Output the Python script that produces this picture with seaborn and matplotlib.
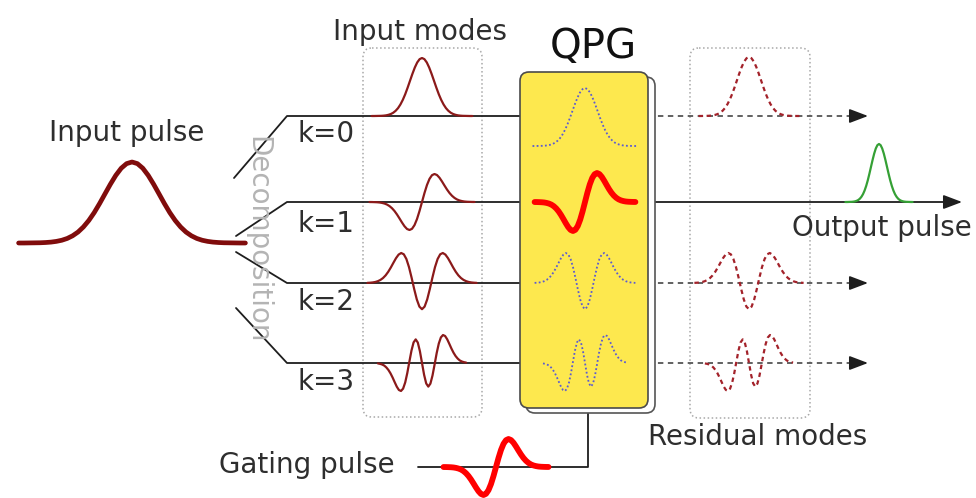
import numpy as np
import matplotlib
matplotlib.use("Agg")
import matplotlib.pyplot as plt
from matplotlib.patches import FancyBboxPatch
import seaborn as sns

# sampled right half of the pulse-mode profiles (k = 0..3), mirrored for the left half
mode_t = [0.0, 0.2, 0.4, 0.6, 0.8, 1.0, 1.2, 1.4, 1.6, 1.8, 2.0,
          2.2, 2.4, 2.6, 2.8, 3.0, 3.2, 3.4, 3.6, 3.8, 4.0, 4.2]
mode_k0 = [1.000, 0.980, 0.923, 0.835, 0.726, 0.607, 0.487, 0.375, 0.278, 0.198, 0.135,
           0.089, 0.056, 0.034, 0.020, 0.011, 0.006, 0.003, 0.002, 0.001, 0.000, 0.000]
mode_k1 = [0.000, 0.323, 0.609, 0.826, 0.958, 1.000, 0.963, 0.866, 0.733, 0.587, 0.446,
           0.322, 0.222, 0.146, 0.091, 0.055, 0.032, 0.017, 0.009, 0.005, 0.002, 0.001]
mode_k2 = [-0.873, -0.787, -0.548, -0.204, 0.177, 0.529, 0.799, 0.957, 1.000, 0.947, 0.827,
           0.674, 0.515, 0.372, 0.254, 0.165, 0.102, 0.060, 0.033, 0.018, 0.009, 0.004]
mode_k3 = [0.000, -0.422, -0.730, -0.843, -0.737, -0.448, -0.052, 0.357, 0.696, 0.915, 0.999,
           0.964, 0.847, 0.686, 0.519, 0.369, 0.248, 0.157, 0.091, 0.053, 0.029, 0.015]
mode_parity = [1, -1, 1, -1]

k_labels = ["k=0", "k=1", "k=2", "k=3"]
residual_modes = [0, 2, 3]   # modes that leave the QPG unconverted
selected_mode = 1            # mode picked out by the gating pulse

sns.set_theme(style="white")
plt.rcParams["font.family"] = ["DejaVu Sans"]


def full_profile(k):
    half = np.array([mode_k0, mode_k1, mode_k2, mode_k3][k])
    t = np.array(mode_t)
    left = mode_parity[k] * half[::-1][:-1]
    return np.concatenate([-t[::-1][:-1], t]), np.concatenate([left, half])


def draw_mode(ax, k, cx, base, u, amp, **style):
    t, g = full_profile(k)
    sns.lineplot(x=cx + t * u, y=base - amp * g, ax=ax, sort=False,
                 estimator=None, legend=False, **style)


fig = plt.figure(figsize=(9.76, 4.98), dpi=100)
ax = fig.add_axes([0, 0, 1, 1])
ax.set_xlim(0, 976)
ax.set_ylim(498, 0)
ax.axis("off")

rows = [116, 202, 283, 363]
label_y = [134, 224, 302, 382]
fan_start = [(234, 178), (236, 236), (236, 252), (236, 308)]
txt = "#2e2e2e"
fs = 20

# input pulse
draw_mode(ax, 0, 132, 243, 27, 81, color="#800c0c", linewidth=3.4)
ax.text(127, 133, "Input pulse", ha="center", va="center", fontsize=fs, color=txt)

# decomposition fan + channel lines
for (x0, y0), yr in zip(fan_start, rows):
    ax.plot([x0, 287, 520], [y0, yr, yr], color="#1e1e1e", lw=1.3, zorder=2)
ax.text(257, 240, "Decomposition", rotation=-90, ha="center", va="center",
        fontsize=fs, color="#b4b4b4")
for lab, ly in zip(k_labels, label_y):
    ax.text(297, ly, lab, ha="left", va="center", fontsize=fs, color=txt)

# input modes box
ax.add_patch(FancyBboxPatch((363, 48), 119, 369, boxstyle="round,pad=0,rounding_size=9",
                            fc="none", ec="#a8a8a8", lw=1.1, ls=":", zorder=1))
ax.text(420, 32, "Input modes", ha="center", va="center", fontsize=fs, color=txt)
in_u = [12, 12.5, 13, 10.5]
in_amp = [58, 28, 30, 28]
for k in range(4):
    draw_mode(ax, k, 422, rows[k], in_u[k], in_amp[k], color="#8b1a1a", linewidth=1.6)

# QPG box
ax.add_patch(FancyBboxPatch((526, 77), 129, 336, boxstyle="round,pad=0,rounding_size=9",
                            fc="white", ec="#555555", lw=1.2, zorder=3))
ax.add_patch(FancyBboxPatch((520, 72), 128, 336, boxstyle="round,pad=0,rounding_size=9",
                            fc="#fde84e", ec="#4a4a4a", lw=1.2, zorder=4))
ax.text(593, 47, "QPG", ha="center", va="center", fontsize=29, color="#111111")
q_base = [146, 202, 283, 363]
q_u = [12.5, 12, 12, 10]
q_amp = [58, 29, 30, 28]
for k in range(4):
    if k == selected_mode:
        draw_mode(ax, k, 585, q_base[k], q_u[k], q_amp[k], color="#ff0000",
                  linewidth=4.2, zorder=6)
    else:
        draw_mode(ax, k, 585, q_base[k], q_u[k], q_amp[k], color="#5a5ad2",
                  linewidth=1.3, linestyle=(0, (1, 1.3)), zorder=6)

# outputs
for k in range(4):
    if k == selected_mode:
        ax.plot([648, 950], [rows[k], rows[k]], color="#1e1e1e", lw=1.3, zorder=2)
        ax.annotate("", xy=(962, rows[k]), xytext=(945, rows[k]),
                    arrowprops=dict(arrowstyle="-|>,head_length=0.95,head_width=0.36",
                                    color="#1e1e1e", lw=1.2, shrinkA=0, shrinkB=0))
    else:
        ax.plot([648, 856], [rows[k], rows[k]], color="#555555", lw=1.3,
                ls=(0, (3, 2.5)), zorder=2)
        ax.annotate("", xy=(868, rows[k]), xytext=(852, rows[k]),
                    arrowprops=dict(arrowstyle="-|>,head_length=0.95,head_width=0.36",
                                    color="#1e1e1e", lw=1.2, shrinkA=0, shrinkB=0))

ax.add_patch(FancyBboxPatch((690, 48), 120, 370, boxstyle="round,pad=0,rounding_size=9",
                            fc="none", ec="#a8a8a8", lw=1.1, ls=":", zorder=1))
res_u = {0: 12, 2: 13, 3: 10.5}
res_amp = {0: 59, 2: 30, 3: 28}
for k in residual_modes:
    draw_mode(ax, k, 749, rows[k], res_u[k], res_amp[k], color="#a3222a",
              linewidth=1.6, linestyle=(0, (2, 1.6)), zorder=5)
ax.text(758, 437, "Residual modes", ha="center", va="center", fontsize=fs, color=txt)

draw_mode(ax, 0, 879, rows[selected_mode], 8, 58, color="#35a035", linewidth=1.6, zorder=5)
ax.text(882, 228, "Output pulse", ha="center", va="center", fontsize=fs, color=txt)

# gating pulse
ax.plot([418, 588, 588], [467, 467, 408], color="#1e1e1e", lw=1.3, zorder=2)
draw_mode(ax, selected_mode, 496, 467, 12.5, 28, color="#ff0000", linewidth=4.2, zorder=5)
ax.text(307, 465, "Gating pulse", ha="center", va="center", fontsize=fs, color=txt)

fig.savefig("out.png", dpi=100)
